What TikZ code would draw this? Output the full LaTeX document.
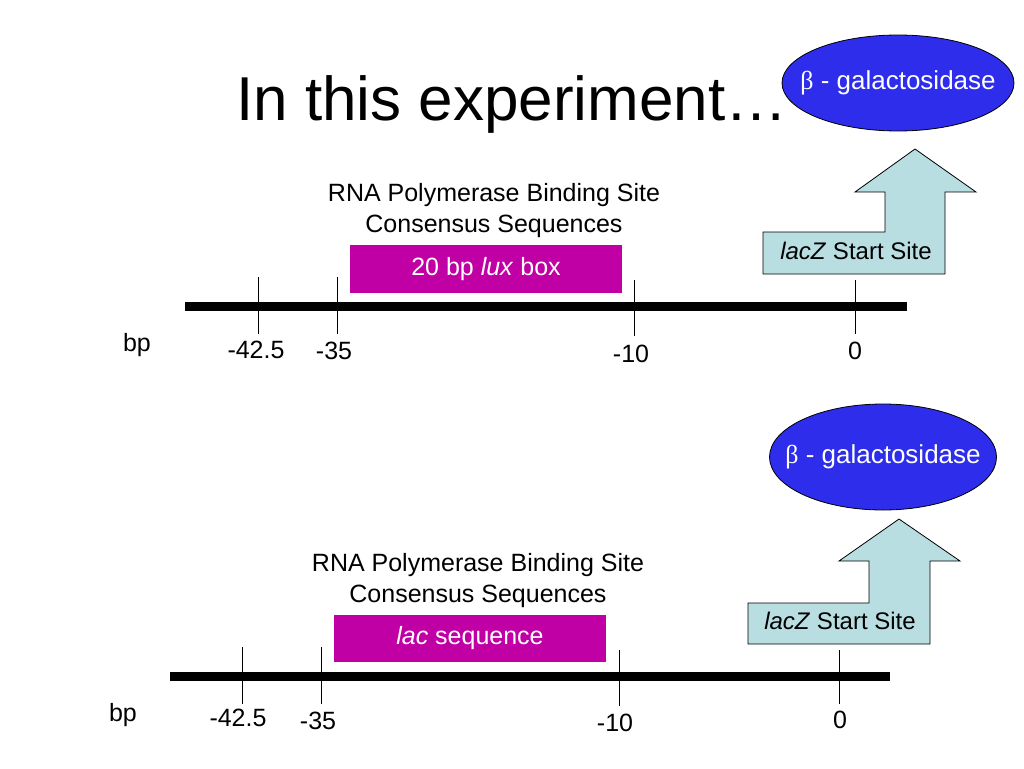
\documentclass[tikz,border=0pt]{standalone}
\usepackage{fontspec}
\setmainfont{Liberation Sans}
\newfontfamily\grk{Liberation Serif}
\usetikzlibrary{shapes.geometric}
\definecolor{enzblue}{RGB}{45,45,235}
\definecolor{arrowfill}{RGB}{185,222,225}
\definecolor{boxmag}{RGB}{192,0,165}
\begin{document}
\begin{tikzpicture}[x=1pt,y=-1pt,
  lbl/.style={font=\fontsize{25}{30}\selectfont, inner sep=0pt},
  enzyme/.style={ellipse, draw=black, line width=0.8pt, fill=enzblue, text=white,
    font=\fontsize{26}{30}\selectfont, inner sep=0pt},
  seqbox/.style={rectangle, fill=boxmag, text=white, font=\fontsize{25}{30}\selectfont,
    minimum width=272pt, minimum height=48pt, inner sep=0pt},
  bentarrow/.style={draw=black, line width=0.8pt, fill=arrowfill},
  dna/.style={line width=9pt},
  tick/.style={line width=0.8pt}]
\useasboundingbox (0,0) rectangle (1024,768);

% title
\node[inner sep=0pt, anchor=base, font=\fontsize{62}{70}\selectfont] (title) at (512,120) {In this experiment\ldots};

% ---------- top panel ----------
\node[enzyme, minimum width=232pt, minimum height=96pt] (enz1) at (898,83) {\makebox[0pt]{{\grk β} - galactosidase}};
\draw[bentarrow] (763,232) -- (885,232) -- (885,192) -- (855,192) -- (915,149) -- (976,192) -- (945,192) -- (945,274) -- (763,274) -- cycle;
\node[lbl, font=\fontsize{24}{30}\selectfont] (start1) at (856,251) {\textit{lacZ} Start Site};

\node[lbl, anchor=base] (rna1) at (494,201) {RNA Polymerase Binding Site};
\node[lbl, anchor=base] (cons1) at (494,232) {Consensus Sequences};
\node[seqbox] (lux) at (486,269) {20 bp \textit{lux} box};

\coordinate (L1a) at (185,306);
\coordinate (L1b) at (907,306);
\draw[dna] (L1a) -- (L1b);
\coordinate (a1t) at (258,277); \coordinate (a1b) at (258,334);
\coordinate (b1t) at (337,277); \coordinate (b1b) at (337,334);
\coordinate (c1t) at (634,280); \coordinate (c1b) at (634,336);
\coordinate (d1t) at (855,280); \coordinate (d1b) at (855,334);
\draw[tick] (a1t) -- (a1b);
\draw[tick] (b1t) -- (b1b);
\draw[tick] (c1t) -- (c1b);
\draw[tick] (d1t) -- (d1b);
\node[lbl] (bp1) at (137,345) {bp};
\node[lbl] (n1a) at (256,350) {-42.5};
\node[lbl] (n1b) at (334,351) {-35};
\node[lbl] (n1c) at (631,354) {-10};
\node[lbl] (n1d) at (855,351) {0};

% ---------- bottom panel ----------
\node[enzyme, minimum width=227pt, minimum height=106pt] (enz2) at (883,457) {\makebox[0pt]{{\grk β} - galactosidase}};
\draw[bentarrow] (748,603) -- (869,603) -- (869,561) -- (839,561) -- (899,519) -- (960,561) -- (930,561) -- (930,644) -- (748,644) -- cycle;
\node[lbl, font=\fontsize{24}{30}\selectfont] (start2) at (840,621) {\textit{lacZ} Start Site};

\node[lbl, anchor=base] (rna2) at (478,571) {RNA Polymerase Binding Site};
\node[lbl, anchor=base] (cons2) at (478,602) {Consensus Sequences};
\node[seqbox, minimum height=47pt] (lac) at (470,638.5) {\textit{lac} sequence};

\coordinate (L2a) at (170,676);
\coordinate (L2b) at (890,676);
\draw[dna] (L2a) -- (L2b);
\coordinate (a2t) at (242,647); \coordinate (a2b) at (242,704);
\coordinate (b2t) at (321,647); \coordinate (b2b) at (321,704);
\coordinate (c2t) at (619,650); \coordinate (c2b) at (619,706);
\coordinate (d2t) at (839,650); \coordinate (d2b) at (839,704);
\draw[tick] (a2t) -- (a2b);
\draw[tick] (b2t) -- (b2b);
\draw[tick] (c2t) -- (c2b);
\draw[tick] (d2t) -- (d2b);
\node[lbl] (bp2) at (123,715) {bp};
\node[lbl] (n2a) at (238,718) {-42.5};
\node[lbl] (n2b) at (318,721) {-35};
\node[lbl] (n2c) at (615,723) {-10};
\node[lbl] (n2d) at (840,720) {0};
\end{tikzpicture}
\end{document}
